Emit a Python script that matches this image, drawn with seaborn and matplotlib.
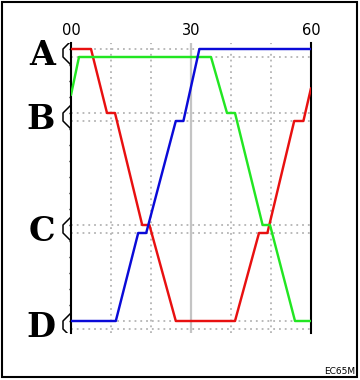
import numpy as np
import pandas as pd
import matplotlib
matplotlib.use("Agg")
import matplotlib.pyplot as plt
import seaborn as sns
from matplotlib.patches import Rectangle

# ---- data (minutes vs. line position; station tracks: upper = pos, lower = pos + 1)
stations = ["A", "B", "C", "D"]
station_pos = [0, 8, 22, 34]
track_offset = 1

red_t = [0, 5, 9, 11, 17.8, 19.6, 26.2, 41, 47, 49.1, 55.8, 58.1, 60]
red_y = [0, 0, 8, 8, 22, 22, 34, 34, 23, 23, 9, 9, 4.9]
green_t = [0, 2, 35, 39, 41, 47.9, 49.75, 56, 60]
green_y = [5.75, 1, 1, 8, 8, 22, 22, 34, 34]
blue_t = [0, 11.2, 16.8, 18.8, 26.2, 28.1, 32.1, 60]
blue_y = [34, 34, 23, 23, 9, 9, 0, 0]

hour_ticks = [0, 30, 60]
hour_labels = ["00", "30", "60"]
grid_minutes = [10, 20, 40, 50]
half_hour = 30
corner_code = "EC65M"

colors = {"red": "#e81010", "green": "#22e622", "blue": "#0a0ad8"}

frames = []
for name, t, y in [("red", red_t, red_y), ("green", green_t, green_y), ("blue", blue_t, blue_y)]:
    frames.append(pd.DataFrame({"t": t, "y": y, "train": name}))
df = pd.concat(frames, ignore_index=True)

sns.set_style("white")
plt.rcParams.update({"text.color": "black", "xtick.color": "black",
                     "ytick.color": "black", "axes.labelcolor": "black"})
fig = plt.figure(figsize=(3.6, 3.8), dpi=100)
ax = fig.add_axes([71 / 360, 1 - 333 / 380, 240 / 360, 290 / 380])

# grid
track_lines = []
for p in station_pos:
    track_lines += [p, p + track_offset]
for yv in track_lines:
    ax.axhline(yv, color="#b4b4b4", lw=1.3, ls=(0, (1, 2.2)), zorder=1)
for xv in grid_minutes:
    ax.axvline(xv, color="#b4b4b4", lw=1.3, ls=(0, (1, 2.2)), zorder=1)
ax.axvline(half_hour, color="#c4c4c4", lw=1.6, zorder=1)

sns.lineplot(data=df, x="t", y="y", hue="train", units="train", estimator=None,
             sort=False, palette=colors, lw=1.75, legend=False, ax=ax, zorder=3)

ax.set_xlim(0, 60)
ax.set_ylim(35.5, -0.75)
ax.set_xlabel("")
ax.set_ylabel("")

for s in ["top", "bottom"]:
    ax.spines[s].set_visible(False)
for s in ["left", "right"]:
    ax.spines[s].set_visible(True)
    ax.spines[s].set_color("black")
    ax.spines[s].set_linewidth(1.5)

ax.xaxis.tick_top()
ax.set_xticks(hour_ticks)
ax.set_xticklabels(hour_labels, fontsize=10.5, family="DejaVu Sans", color="black")
ax.tick_params(axis="x", length=0, pad=3.5)

ax.set_yticks(np.arange(0, 36, 2))
ax.set_yticklabels([])
ax.tick_params(axis="y", left=True, length=1.8, width=1, direction="out", color="black")

# station markers (half hexagons) and labels
clip_rect = Rectangle((-0.2, 0), 1.4, 1, transform=ax.transAxes, visible=False)
ax.add_patch(clip_rect)
for name, p in zip(stations, station_pos):
    c = p + 0.5 * track_offset
    xs = [0, -2, -2, 0]
    ys = [c - 1.5, c - 0.5, c + 0.5, c + 1.5]
    ln, = ax.plot(xs, ys, color="black", lw=1.1, clip_on=True, zorder=4)
    ln.set_clip_path(clip_rect)
    ax.annotate(name, xy=(0, c), xycoords=("axes fraction", "data"),
                xytext=(-16 * 0.72, -12 * 0.72), textcoords="offset points",
                ha="right", va="baseline", fontsize=24, fontweight="heavy",
                family="DejaVu Serif", color="black", annotation_clip=False)

# figure border and code
fig.patches.append(Rectangle((2 / 360, 1 - 377 / 380), 355 / 360, 375 / 380,
                             transform=fig.transFigure, fill=False,
                             edgecolor="black", lw=1.5))
fig.text(355 / 360, 1 - 376 / 380, corner_code, ha="right", va="bottom",
         fontsize=6.5, family="DejaVu Sans", color="black")

fig.savefig("out.png", dpi=100)
